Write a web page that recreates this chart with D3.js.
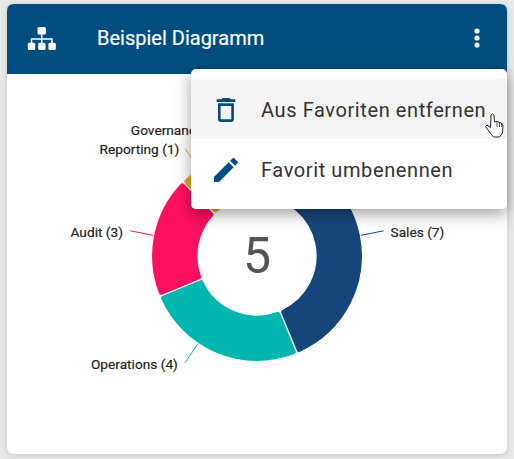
<!DOCTYPE html>
<html>
<head>
<meta charset="utf-8">
<script src="https://cdn.jsdelivr.net/npm/d3@7"></script>
<style>
html, body { margin: 0; padding: 0; background: #e9e9e9; overflow: hidden; }
svg { display: block; font-family: Roboto, sans-serif; }
</style>
</head>
<body>
<svg id="chart" width="514" height="459"></svg>
<script>
// chart values, clockwise from the top
var categories = ["Sales", "Operations", "Audit", "Reporting", "Governance"]
var counts = [7, 4, 3, 1, 1]
var colors = ["#15457a", "#00b6ae", "#ff0f5f", "#e0aa1f", "#e0aa1f"]
var menuItems = ["Aus Favoriten entfernen", "Favorit umbenennen"]
var title = "Beispiel Diagramm"

// leader lines are not all at the slice middle, shift in degrees
var leaderShift = [0, 11.5, 0, 0, 0]
// small label moves, the labels avoid each other in the original
var labelDx = [0, 0, -0.5, 1, -1]
var labelDy = [0, 0, 0, -1, 0]

var cx = 257, cy = 256, outerR = 105.5, innerR = 59

var svg = d3.select("#chart")
var defs = svg.append("defs")

var cardShadow = defs.append("filter").attr("id", "cardShadow")
  .attr("x", "-5%").attr("y", "-5%").attr("width", "110%").attr("height", "110%")
cardShadow.append("feDropShadow").attr("dx", 0).attr("dy", 1).attr("stdDeviation", 3)
  .attr("flood-color", "#000").attr("flood-opacity", 0.16)

var menuShadow = defs.append("filter").attr("id", "menuShadow")
  .attr("x", "-15%").attr("y", "-30%").attr("width", "130%").attr("height", "170%")
menuShadow.append("feDropShadow").attr("dx", 0).attr("dy", 5).attr("stdDeviation", 8)
  .attr("flood-color", "#000").attr("flood-opacity", 0.38)

// card
svg.append("rect").attr("x", 7).attr("y", 4).attr("width", 500).attr("height", 450)
  .attr("rx", 7).attr("fill", "#fff").attr("filter", "url(#cardShadow)")

// header, rounded on top only
svg.append("path").attr("fill", "#004e7f")
  .attr("d", "M7,74L7,11Q7,4 14,4L500,4Q507,4 507,11L507,74Z")

// header icon
var tree = svg.append("g")
tree.append("path").attr("fill", "none").attr("stroke", "#fff").attr("stroke-width", 1.5)
  .attr("d", "M41.7,32V39M31.5,46V39H52V46M41.7,39V46")
tree.append("rect").attr("x", 37.5).attr("y", 27).attr("width", 8.4).attr("height", 7.4).attr("rx", 1.5).attr("fill", "#fff")
tree.selectAll("rect.leaf").data([27.8, 38.2, 48.4]).enter().append("rect")
  .attr("class", "leaf").attr("x", function(d) { return d }).attr("y", 42.7)
  .attr("width", 7.4).attr("height", 7.3).attr("rx", 1.5).attr("fill", "#fff")

svg.append("text").attr("x", 97).attr("y", 45).attr("fill", "#fff")
  .attr("font-size", 20).attr("font-weight", 400).attr("stroke", "#fff").attr("stroke-width", 0.2).text(title)

svg.selectAll("circle.dot").data([31, 38, 45]).enter().append("circle")
  .attr("class", "dot").attr("cx", 477).attr("cy", function(d) { return d }).attr("r", 2.6).attr("fill", "#fff")

// donut
var pie = d3.pie().sort(null)
var arcs = pie(counts)
var arc = d3.arc().innerRadius(innerR).outerRadius(outerR).cornerRadius(3)

var chart = svg.append("g").attr("transform", "translate(" + cx + "," + cy + ")")

chart.selectAll("path.slice").data(arcs).enter().append("path")
  .attr("class", "slice")
  .attr("d", arc)
  .attr("fill", function(d, i) { return colors[i] })
  .attr("stroke", "#fff")
  .attr("stroke-width", 1.2)

function leaderPoint(d, i, r) {
  var a = (d.startAngle + d.endAngle) / 2 + leaderShift[i] * Math.PI / 180
  return [Math.sin(a) * r, -Math.cos(a) * r]
}

chart.selectAll("line.leader").data(arcs).enter().append("line")
  .attr("class", "leader")
  .attr("x1", function(d, i) { return leaderPoint(d, i, 106)[0] })
  .attr("y1", function(d, i) { return leaderPoint(d, i, 106)[1] })
  .attr("x2", function(d, i) { return leaderPoint(d, i, 129)[0] })
  .attr("y2", function(d, i) { return leaderPoint(d, i, 129)[1] })
  .attr("stroke", function(d, i) { return colors[i] })
  .attr("stroke-width", 1)

chart.selectAll("text.label").data(arcs).enter().append("text")
  .attr("class", "label")
  .attr("x", function(d, i) {
    var p = leaderPoint(d, i, 129)
    return p[0] + (p[0] > 0 ? 7 : -7) + labelDx[i]
  })
  .attr("y", function(d, i) { return leaderPoint(d, i, 129)[1] + 6 + labelDy[i] })
  .attr("text-anchor", function(d, i) { return leaderPoint(d, i, 129)[0] > 0 ? "start" : "end" })
  .attr("font-size", 13.7)
  .attr("fill", "#222")
  .attr("stroke", "#222")
  .attr("stroke-width", 0.2)
  .text(function(d, i) { return categories[i] + " (" + counts[i] + ")" })

chart.append("text").attr("x", 0).attr("y", 17).attr("text-anchor", "middle")
  .attr("font-size", 50).attr("font-weight", 400).attr("fill", "#555")
  .text(categories.length)

// popup menu on top of the chart
svg.append("rect").attr("x", 191).attr("y", 69).attr("width", 316).attr("height", 140)
  .attr("rx", 5).attr("fill", "#fff").attr("filter", "url(#menuShadow)")
svg.append("rect").attr("x", 191).attr("y", 79).attr("width", 316).attr("height", 60).attr("fill", "#f4f4f4")

svg.selectAll("text.item").data(menuItems).enter().append("text")
  .attr("class", "item").attr("x", 261)
  .attr("y", function(d, i) { return 117 + i * 60 })
  .attr("font-size", 20).attr("letter-spacing", 0.6).attr("fill", "#333")
  .text(function(d) { return d })

svg.append("path").attr("fill", "#004e7f").attr("transform", "translate(210,94) scale(1.33)")
  .attr("d", "M6 19c0 1.1.9 2 2 2h8c1.1 0 2-.9 2-2V7H6v12zM8 9h8v10H8V9zm7.5-5l-1-1h-5l-1 1H5v2h14V4h-3.5z")
svg.append("path").attr("fill", "#004e7f").attr("transform", "translate(210,154) scale(1.33)")
  .attr("d", "M3 17.25V21h3.75L17.81 9.94l-3.75-3.75L3 17.25zM20.71 7.04c.39-.39.39-1.02 0-1.41l-2.34-2.34c-.39-.39-1.02-.39-1.41 0l-1.83 1.83 3.75 3.75 1.83-1.83z")

// hand cursor
svg.append("path").attr("fill", "#fff").attr("stroke", "#1d2b3a").attr("stroke-width", 1).attr("stroke-linejoin", "round")
  .attr("d", "M491,115Q492.5,112.5 494,115L494.5,122L497,121.5L499.5,122.5L501.5,123L503,125.5L502.5,133L499.5,137H493.5L488,130L485.5,126.5L487,125L490.5,127.5Z")
svg.append("path").attr("fill", "none").attr("stroke", "#1d2b3a").attr("stroke-width", 0.8)
  .attr("d", "M497,122V127M499.5,122.5V127M501.5,123V127")
</script>
</body>
</html>
